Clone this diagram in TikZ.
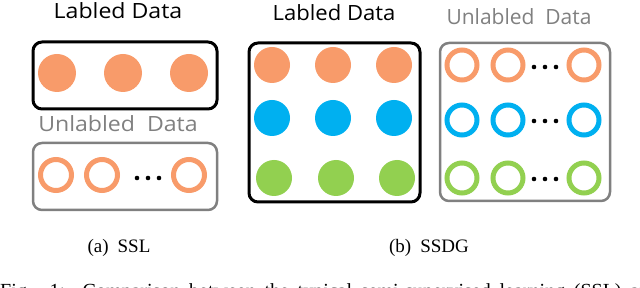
\documentclass[tikz,border=0pt]{standalone}
\usepackage{fontspec}
\usepackage{graphicx}
\setmainfont{Liberation Serif}
\newfontfamily\lblfont{Open Sans}
\definecolor{dorange}{HTML}{F89B6A}
\definecolor{dblue}{HTML}{00B0F0}
\definecolor{dgreen}{HTML}{92D050}
\definecolor{dgray}{HTML}{808080}
\begin{document}
\begin{tikzpicture}[x=1pt,y=-1pt,
  title/.style={anchor=base,inner sep=0pt,font=\lblfont\fontsize{21}{25}\selectfont},
  capt/.style={anchor=base,inner sep=0pt,font=\fontsize{19}{22}\selectfont},
  labbox/.style={draw=black,line width=3pt,rounded corners=9pt},
  unlbox/.style={draw=dgray,line width=2.5pt,rounded corners=9pt},
  dotc/.style={circle,fill,inner sep=0pt,minimum size=4.6pt},
  fillL/.style={circle,inner sep=0pt,minimum size=38pt},
  fillR/.style={circle,inner sep=0pt,minimum size=36pt},
  ringL/.style={circle,inner sep=0pt,line width=5pt,minimum size=31pt},
  ringR/.style={circle,inner sep=0pt,line width=5pt,minimum size=30pt}]
\useasboundingbox (0,0) rectangle (640,288);
\clip (0,0) rectangle (640,288);
% ---------- (a) SSL ----------
\node[title] (tLa) at (118,19) {\scalebox{1.1}[1]{Labled Data}};
\draw[labbox] (33,42) rectangle (217,109);
\node[fillL,fill=dorange] (a1) at (57,73) {};
\node[fillL,fill=dorange] (a2) at (123,73) {};
\node[fillL,fill=dorange] (a3) at (189,73) {};
\node[title,text=dgray] (tUa) at (118,132) {\scalebox{1.1}[1]{Unlabled\ \ Data}};
\draw[unlbox] (33,143) rectangle (217,210);
\node[ringL,draw=dorange] (u1) at (56,175) {};
\node[ringL,draw=dorange] (u2) at (102,175) {};
\node[ringL,draw=dorange] (u3) at (189,175) {};
\node[dotc] (ad1) at (137,178) {};
\node[dotc] (ad2) at (148,178) {};
\node[dotc] (ad3) at (159,178) {};
\node[capt] (ca) at (119,253) {(a)\hspace{9pt}SSL};
% ---------- (b) SSDG ----------
\node[title] (tLb) at (334,20.5) {\scalebox{1.05}[1]{Labled Data}};
\draw[labbox] (249,43) rectangle (420,202);
\foreach \x/\n in {272/1,333/2,394/3}{
  \node[fillR,fill=dorange] (bo\n) at (\x,65) {};
  \node[fillR,fill=dblue] (bb\n) at (\x,118) {};
}
\foreach \x/\n in {274/1,336/2,397/3}{
  \node[fillR,fill=dgreen] (bg\n) at (\x,178) {};
}
\node[title,text=dgray] (tUb) at (519,25) {\scalebox{1.0}[1]{Unlabled\ \ Data}};
\draw[unlbox] (440,43) rectangle (610,201);
\foreach \y/\c/\n in {65/dorange/o,120/dblue/b,178/dgreen/g}{
  \node[ringR,draw=\c] (r\n1) at (462,\y) {};
  \node[ringR,draw=\c] (r\n2) at (508,\y) {};
  \node[ringR,draw=\c] (r\n3) at (584,\y) {};
}
\foreach \y/\n in {67/1,121/2,179/3}{
  \node[dotc] (bd\n a) at (534,\y) {};
  \node[dotc] (bd\n b) at (545,\y) {};
  \node[dotc] (bd\n c) at (556,\y) {};
}
\node[capt] (cb) at (429,253) {(b)\hspace{9pt}SSDG};
% ---------- figure caption (cut) ----------
\node[anchor=base west,inner sep=0pt,font=\fontsize{20}{24}\selectfont] (fig) at (0,297.5)
  {\makebox[659pt][s]{Fig. 1:\ \ Comparison between the typical semi-supervised learning (SSL) and}};
\end{tikzpicture}
\end{document}
